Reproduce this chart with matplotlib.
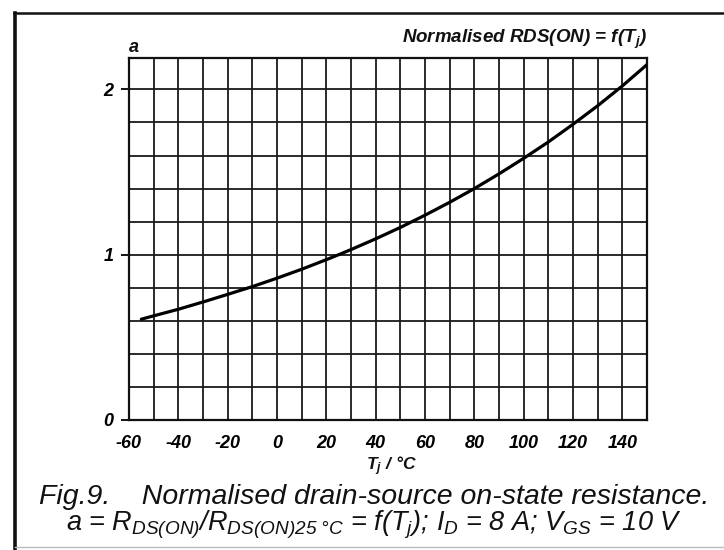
import numpy as np
import matplotlib
matplotlib.use("Agg")
import matplotlib.pyplot as plt
from matplotlib.lines import Line2D

plt.rcParams['font.family'] = ['Liberation Sans', 'DejaVu Sans']
plt.rcParams['mathtext.fontset'] = 'custom'
plt.rcParams['mathtext.rm'] = 'Liberation Sans:italic'
plt.rcParams['mathtext.it'] = 'Liberation Sans:italic'
plt.rcParams['mathtext.bf'] = 'Liberation Sans:italic:bold'

# junction temperature (degC) and normalised on-resistance
tj = [-55, -40, -30, -20, -10, 0, 10, 20, 25, 30, 40, 50, 60, 70, 80,
      90, 100, 110, 120, 130, 140, 150]
a_norm = [0.61, 0.67, 0.714, 0.76, 0.807, 0.858, 0.912, 0.97, 1.0, 1.031,
          1.096, 1.165, 1.239, 1.317, 1.40, 1.489, 1.583, 1.682, 1.789,
          1.901, 2.021, 2.15]

x_ticks = [-60, -40, -20, 0, 20, 40, 60, 80, 100, 120, 140]
y_ticks = [0, 1, 2]

fig = plt.figure(figsize=(7.24, 5.5), dpi=100)
W, H = 724, 550
ax = fig.add_axes([129 / W, 1 - 420 / H, (647 - 129) / W, (420 - 58) / H])

ax.plot(tj, a_norm, color='black', lw=2.3, solid_capstyle='round', zorder=5)

ax.set_xlim(-60, 150)
ax.set_ylim(0, 2.19)

ax.set_xticks(x_ticks)
ax.set_xticks(np.arange(-50, 150, 10), minor=True)
ax.set_yticks(y_ticks)
ax.set_yticks(np.arange(0.2, 2.19, 0.2), minor=True)
ax.grid(which='both', color='#1a1a1a', lw=1.3)
ax.set_axisbelow(True)

ax.tick_params(axis='y', which='major', length=6, width=1.3, pad=5,
               labelsize=13)
ax.tick_params(axis='x', which='major', length=0, pad=11, labelsize=13)
ax.tick_params(which='minor', length=0)
ax.set_xticklabels([str(v) for v in x_ticks])
for lab in ax.get_xticklabels() + ax.get_yticklabels():
    lab.set_fontweight('bold')
    lab.set_fontstyle('italic')

for s in ax.spines.values():
    s.set_linewidth(1.6)
    s.set_color('#111111')

bi = dict(fontweight='bold', fontstyle='italic', color='#111111')
ax.text(0, 1.005, 'a', transform=ax.transAxes, ha='left', va='bottom',
        fontsize=13, **bi)
ax.text(1, 1.02, r'Normalised RDS(ON) = f($\mathbf{T_j}$)',
        transform=ax.transAxes, ha='right', va='bottom', fontsize=13.5, **bi)
fig.text(391 / W, 1 - 466 / H, r'$\mathbf{T_j}$ / °C', ha='center',
         va='center', fontsize=12.5, **bi)

cap = dict(fontstyle='italic', color='#111111', ha='center', va='center')
fig.text(374 / W, 1 - 497 / H,
         'Fig.9.    Normalised drain-source on-state resistance.',
         fontsize=20.5, **cap)
fig.text(374 / W, 1 - 525 / H,
         r'a = $R_{DS(ON)}$/$R_{DS(ON)25\ °C}$ = f($T_j$); '
         r'$I_D$ = 8 A; $V_{GS}$ = 10 V',
         fontsize=19.5, **cap)

# outer frame of the datasheet figure
fig.add_artist(Line2D([15 / W, 15 / W], [0, 1 - 13 / H], color='#111111',
                      lw=2.6, transform=fig.transFigure))
fig.add_artist(Line2D([14 / W, 1], [1 - 13 / H, 1 - 13 / H], color='#111111',
                      lw=1.8, transform=fig.transFigure))
fig.add_artist(Line2D([15 / W, 1], [1 - 547 / H, 1 - 547 / H], color='#bbbbbb',
                      lw=1.0, transform=fig.transFigure))

fig.savefig('out.png', dpi=100)
